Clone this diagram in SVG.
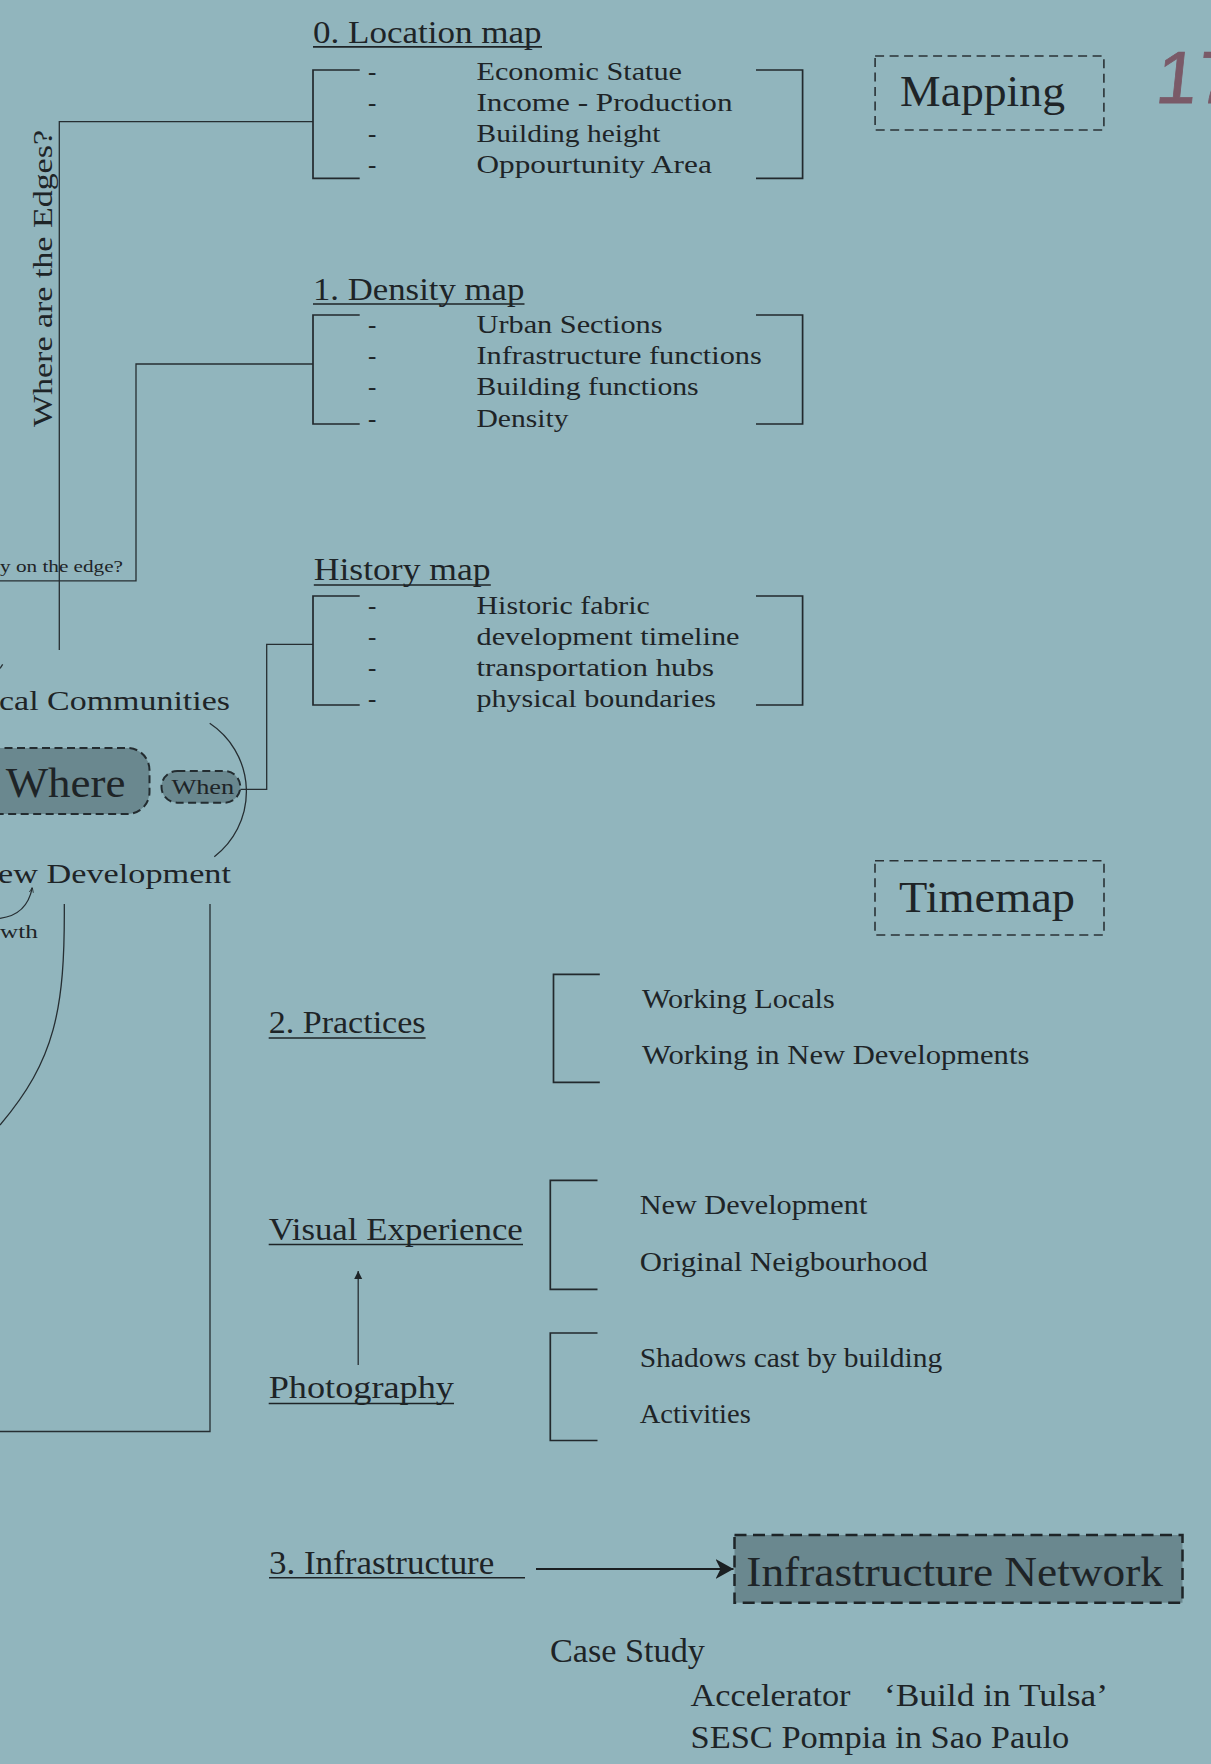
<svg xmlns="http://www.w3.org/2000/svg" width="1211" height="1764" viewBox="0 0 1211 1764">
<style>
.t{font-family:"Liberation Serif","Times New Roman",serif;fill:#1e2427}
.h{font-size:31px}
.i{font-size:25px}
.j{font-size:27px}
.b{font-size:44px}
.ln{fill:none;stroke:#262e32;stroke-width:1.3}
.br{fill:none;stroke:#22292d;stroke-width:1.7}
.ul{stroke:#1e2427;stroke-width:1.6}
.dbox{fill:none;stroke:#2a3236;stroke-width:1.6;stroke-dasharray:9 5.5}
.dark{fill:#6a888f;stroke:#232c30;stroke-width:2;stroke-dasharray:8 4.5}
</style>
<defs>
<marker id="tri" viewBox="0 0 10 10" refX="10" refY="5" markerWidth="8" markerHeight="9" markerUnits="userSpaceOnUse" orient="auto">
<path d="M0,0 L10,5 L0,10 z" fill="#1e2427"/>
</marker>
<marker id="stealth" viewBox="0 0 18 20" refX="18" refY="10" markerWidth="18" markerHeight="20" markerUnits="userSpaceOnUse" orient="auto">
<path d="M0,0 L18,10 L0,20 L5,10 z" fill="#1a1f22"/>
</marker>
<marker id="small" viewBox="0 0 10 10" refX="10" refY="5" markerWidth="5" markerHeight="5" markerUnits="userSpaceOnUse" orient="auto">
<path d="M0,1 L10,5 L0,9" fill="none" stroke="#1e2427" stroke-width="1.5"/>
</marker>
</defs>
<rect width="1211" height="1764" fill="#91b5bd"/>

<g id="connectors">
<polyline class="ln" points="313,121.7 59.3,121.7 59.3,650"/>
<polyline class="ln" points="313,364 136,364 136,580.8 0,580.8"/>
<polyline class="ln" points="240.3,789.3 266.7,789.3 266.7,644.3 313,644.3"/>
<path class="ln" d="M0,668.5 L2.7,664.3"/>
<path class="ln" d="M209.7,723.3 A82,82 0 0 1 214.3,856.7"/>
<path class="ln" d="M0,918.3 Q27,915 32.3,887.5" marker-end="url(#small)"/>
<path class="ln" d="M64.3,904 C65,1010 55,1060 0,1125"/>
<polyline class="ln" points="210,904 210,1431.5 0,1431.5"/>
<line class="ln" x1="358.2" y1="1365" x2="358.2" y2="1271" marker-end="url(#tri)"/>
<line x1="536" y1="1569" x2="733.5" y2="1569" stroke="#1a1f22" stroke-width="2.2" marker-end="url(#stealth)"/>
</g>

<g id="edges-question">
<text class="t" font-size="28" transform="translate(51.5,427) rotate(-90)" textLength="297" lengthAdjust="spacingAndGlyphs">Where are the Edges?</text>
</g>

<g id="edge-label">
<text class="t" font-size="17" x="0" y="571.7" textLength="123" lengthAdjust="spacingAndGlyphs">y on the edge?</text>
</g>

<g id="local-communities">
<text class="t" font-size="28" x="-1" y="710" textLength="231" lengthAdjust="spacingAndGlyphs">cal Communities</text>
</g>

<g id="where">
<rect class="dark" x="-30" y="748" width="179.5" height="66" rx="22"/>
<text class="t" font-size="42" x="5.7" y="796.7" textLength="119.8" lengthAdjust="spacingAndGlyphs">Where</text>
</g>

<g id="when">
<rect class="dark" x="161.5" y="771" width="78.8" height="31.7" rx="15.8"/>
<text class="t" font-size="21" x="171.4" y="794.3" textLength="62.8" lengthAdjust="spacingAndGlyphs">When</text>
</g>

<g id="new-development">
<text class="t" font-size="28" x="-2" y="882.7" textLength="233" lengthAdjust="spacingAndGlyphs">ew Development</text>
</g>

<g id="growth">
<text class="t" font-size="19" x="0" y="938.3" textLength="37.7" lengthAdjust="spacingAndGlyphs">wth</text>
</g>

<g id="location-map">
<text class="t h" x="313" y="43.3" textLength="228.5" lengthAdjust="spacingAndGlyphs">0. Location map</text>
<line class="ul" x1="313" y1="46.9" x2="542" y2="46.9"/>
<polyline class="br" points="359.7,70 313,70 313,178.3 359.7,178.3"/>
<polyline class="br" points="756,70 802.6,70 802.6,178.3 756,178.3"/>
<text class="t i" x="368" y="80">-</text>
<text class="t i" x="368" y="111">-</text>
<text class="t i" x="368" y="142">-</text>
<text class="t i" x="368" y="173">-</text>
<text class="t i" x="476.5" y="80" textLength="205.5" lengthAdjust="spacingAndGlyphs">Economic Statue</text>
<text class="t i" x="476.5" y="111" textLength="256" lengthAdjust="spacingAndGlyphs">Income - Production</text>
<text class="t i" x="476.5" y="142" textLength="184" lengthAdjust="spacingAndGlyphs">Building height</text>
<text class="t i" x="476.5" y="173" textLength="235.3" lengthAdjust="spacingAndGlyphs">Oppourtunity Area</text>
</g>

<g id="density-map">
<text class="t h" x="313" y="300" textLength="211.3" lengthAdjust="spacingAndGlyphs">1. Density map</text>
<line class="ul" x1="313" y1="304" x2="524.5" y2="304"/>
<polyline class="br" points="359.7,315 313,315 313,424 359.7,424"/>
<polyline class="br" points="756,315 802.6,315 802.6,424 756,424"/>
<text class="t i" x="368" y="333.3">-</text>
<text class="t i" x="368" y="364">-</text>
<text class="t i" x="368" y="395">-</text>
<text class="t i" x="368" y="426.5">-</text>
<text class="t i" x="476.5" y="333.3" textLength="186" lengthAdjust="spacingAndGlyphs">Urban Sections</text>
<text class="t i" x="476.5" y="364" textLength="285.3" lengthAdjust="spacingAndGlyphs">Infrastructure functions</text>
<text class="t i" x="476.5" y="395" textLength="222.2" lengthAdjust="spacingAndGlyphs">Building functions</text>
<text class="t i" x="476.5" y="426.5" textLength="92" lengthAdjust="spacingAndGlyphs">Density</text>
</g>

<g id="history-map">
<text class="t h" x="313.8" y="580" textLength="176.8" lengthAdjust="spacingAndGlyphs">History map</text>
<line class="ul" x1="313.8" y1="585" x2="490.8" y2="585"/>
<polyline class="br" points="359.7,596 313,596 313,705 359.7,705"/>
<polyline class="br" points="756,596 802.6,596 802.6,705 756,705"/>
<text class="t i" x="368" y="613.5">-</text>
<text class="t i" x="368" y="644.5">-</text>
<text class="t i" x="368" y="675.5">-</text>
<text class="t i" x="368" y="706.5">-</text>
<text class="t i" x="476.5" y="613.5" textLength="173.4" lengthAdjust="spacingAndGlyphs">Historic fabric</text>
<text class="t i" x="476.5" y="644.5" textLength="263" lengthAdjust="spacingAndGlyphs">development timeline</text>
<text class="t i" x="476.5" y="675.5" textLength="237.5" lengthAdjust="spacingAndGlyphs">transportation hubs</text>
<text class="t i" x="476.5" y="706.5" textLength="239.5" lengthAdjust="spacingAndGlyphs">physical boundaries</text>
</g>

<g id="mapping">
<rect class="dbox" x="875.1" y="56" width="228.8" height="74"/>
<text class="t b" x="900" y="106" textLength="165" lengthAdjust="spacingAndGlyphs">Mapping</text>
</g>

<g id="page-number">
<text font-family="'Liberation Sans',Arial,sans-serif" font-size="74" fill="#7a5a68" stroke="#7a5a68" stroke-width="0.8" transform="translate(1154,102.7) skewX(-6)">17</text>
</g>

<g id="timemap">
<rect class="dbox" x="875" y="860.7" width="229" height="74.3"/>
<text class="t b" x="899" y="912" textLength="176" lengthAdjust="spacingAndGlyphs">Timemap</text>
</g>

<g id="practices">
<text class="t h" x="268.7" y="1033.3" textLength="156.9" lengthAdjust="spacingAndGlyphs">2. Practices</text>
<line class="ul" x1="268.7" y1="1038" x2="425.6" y2="1038"/>
<polyline class="br" points="599.8,974.4 553.5,974.4 553.5,1082.3 599.8,1082.3"/>
<text class="t j" x="642" y="1007.7" textLength="192.7" lengthAdjust="spacingAndGlyphs">Working Locals</text>
<text class="t j" x="642" y="1064.3" textLength="387.3" lengthAdjust="spacingAndGlyphs">Working in New Developments</text>
</g>

<g id="visual-experience">
<text class="t h" x="268.7" y="1239.6" textLength="254.1" lengthAdjust="spacingAndGlyphs">Visual Experience</text>
<line class="ul" x1="268.7" y1="1244.5" x2="523" y2="1244.5"/>
<polyline class="br" points="597.5,1180.3 550.3,1180.3 550.3,1289.3 597.5,1289.3"/>
<text class="t j" x="639.7" y="1214.3" textLength="227.6" lengthAdjust="spacingAndGlyphs">New Development</text>
<text class="t j" x="639.7" y="1271" textLength="288" lengthAdjust="spacingAndGlyphs">Original Neigbourhood</text>
</g>

<g id="photography">
<text class="t h" x="268.7" y="1398.2" textLength="185.2" lengthAdjust="spacingAndGlyphs">Photography</text>
<line class="ul" x1="268.7" y1="1403.5" x2="454" y2="1403.5"/>
<polyline class="br" points="597.5,1333 550.3,1333 550.3,1440.5 597.5,1440.5"/>
<text class="t j" x="639.7" y="1366.6" textLength="302.5" lengthAdjust="spacingAndGlyphs">Shadows cast by building</text>
<text class="t j" x="639.7" y="1422.9" textLength="111.1" lengthAdjust="spacingAndGlyphs">Activities</text>
</g>

<g id="infrastructure">
<text class="t" font-size="33" x="269" y="1574" textLength="225.3" lengthAdjust="spacingAndGlyphs">3. Infrastructure</text>
<line class="ul" x1="269" y1="1577.7" x2="525" y2="1577.7"/>
</g>

<g id="infrastructure-network">
<rect x="734.5" y="1535" width="448" height="67.7" fill="#6a888f" stroke="#1e2528" stroke-width="2.5" stroke-dasharray="12 6.5"/>
<text class="t" font-size="43" x="746.3" y="1586" textLength="416.7" lengthAdjust="spacingAndGlyphs">Infrastructure Network</text>
</g>

<g id="case-study">
<text class="t" font-size="33" x="549.9" y="1662" textLength="155" lengthAdjust="spacingAndGlyphs">Case Study</text>
<text class="t" font-size="31" x="690.5" y="1705.7" textLength="160" lengthAdjust="spacingAndGlyphs">Accelerator</text>
<text class="t" font-size="31" x="884" y="1705.7" textLength="224" lengthAdjust="spacingAndGlyphs">‘Build in Tulsa’</text>
<text class="t" font-size="31" x="690.5" y="1748.3" textLength="378.7" lengthAdjust="spacingAndGlyphs">SESC Pompia in Sao Paulo</text>
</g>
</svg>
